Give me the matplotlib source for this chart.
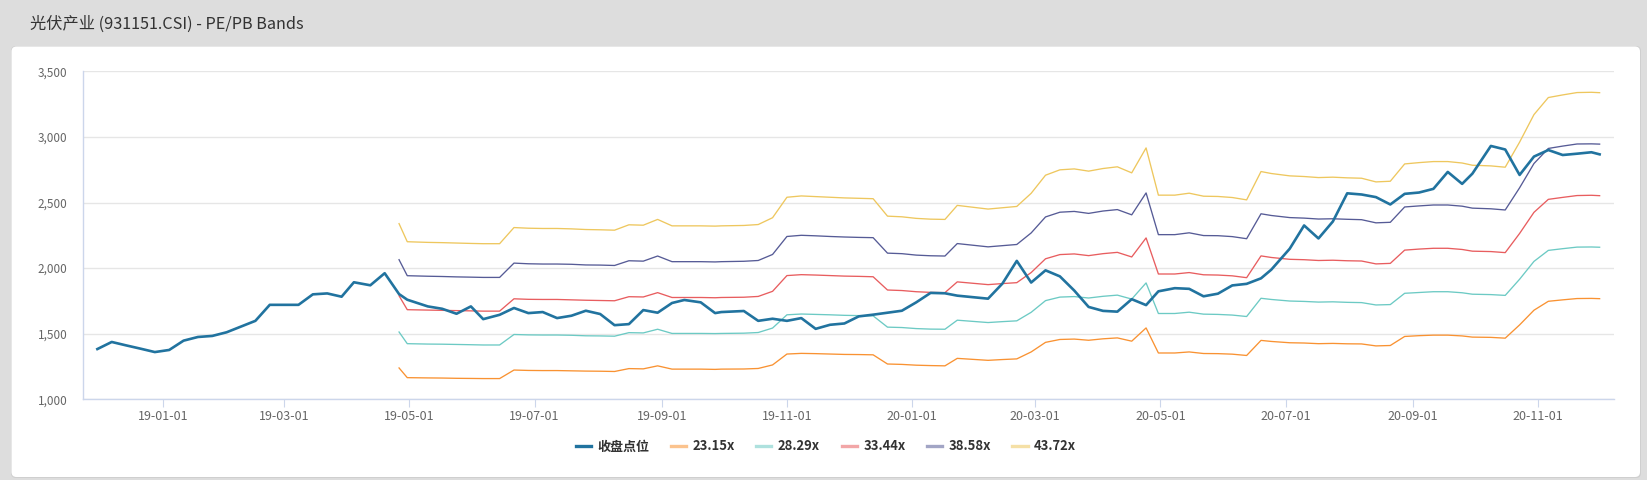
import matplotlib
matplotlib.use("Agg")
import matplotlib.pyplot as plt
import matplotlib.dates as mdates
from matplotlib.patches import FancyBboxPatch
from matplotlib.lines import Line2D
from matplotlib.ticker import FuncFormatter, MultipleLocator
from matplotlib.transforms import IdentityTransform
import pandas as pd

plt.rcParams['font.family'] = ['Noto Sans CJK SC', 'DejaVu Sans']

# weekly closes (last trading day of each week)
dates = [
    "2018-11-30", "2018-12-07", "2018-12-14", "2018-12-21", "2018-12-28",
    "2019-01-04", "2019-01-11", "2019-01-18", "2019-01-25", "2019-02-01",
    "2019-02-15", "2019-02-22", "2019-03-01", "2019-03-08", "2019-03-15",
    "2019-03-22", "2019-03-29", "2019-04-04", "2019-04-12", "2019-04-19",
    "2019-04-26", "2019-04-30", "2019-05-10", "2019-05-17", "2019-05-24",
    "2019-05-31", "2019-06-06", "2019-06-14", "2019-06-21", "2019-06-28",
    "2019-07-05", "2019-07-12", "2019-07-19", "2019-07-26", "2019-08-02",
    "2019-08-09", "2019-08-16", "2019-08-23", "2019-08-30", "2019-09-06",
    "2019-09-12", "2019-09-20", "2019-09-27", "2019-09-30", "2019-10-11",
    "2019-10-18", "2019-10-25", "2019-11-01", "2019-11-08", "2019-11-15",
    "2019-11-22", "2019-11-29", "2019-12-06", "2019-12-13", "2019-12-20",
    "2019-12-27", "2020-01-03", "2020-01-10", "2020-01-17", "2020-01-23",
    "2020-02-07", "2020-02-14", "2020-02-21", "2020-02-28", "2020-03-06",
    "2020-03-13", "2020-03-20", "2020-03-27", "2020-04-03", "2020-04-10",
    "2020-04-17", "2020-04-24", "2020-04-30", "2020-05-08", "2020-05-15",
    "2020-05-22", "2020-05-29", "2020-06-05", "2020-06-12", "2020-06-19",
    "2020-06-24", "2020-07-03", "2020-07-10", "2020-07-17", "2020-07-24",
    "2020-07-31", "2020-08-07", "2020-08-14", "2020-08-21", "2020-08-28",
    "2020-09-04", "2020-09-11", "2020-09-18", "2020-09-25", "2020-09-30",
    "2020-10-09", "2020-10-16", "2020-10-23", "2020-10-30", "2020-11-06",
    "2020-11-13", "2020-11-20", "2020-11-27", "2020-12-01",
]

close = [
    1383, 1437, 1411, 1386, 1360,
    1376, 1447, 1475, 1483, 1511,
    1598, 1720, 1720, 1720, 1800,
    1807, 1782, 1892, 1869, 1961,
    1802, 1759, 1708, 1690, 1652,
    1708, 1611, 1644, 1696, 1657,
    1665, 1619, 1637, 1675, 1650,
    1565, 1573, 1680, 1660, 1734,
    1757, 1739, 1657, 1665, 1673,
    1598, 1614, 1598, 1619, 1537,
    1568, 1578, 1632, 1645, 1660,
    1675, 1739, 1811, 1808, 1790,
    1767, 1882, 2055, 1890, 1983,
    1937, 1829, 1704, 1674, 1668,
    1763, 1718, 1823, 1847, 1842,
    1785, 1805, 1868, 1880, 1922,
    1988, 2148, 2325, 2226, 2355,
    2570, 2561, 2541, 2485, 2566,
    2576, 2604, 2733, 2642, 2720,
    2931, 2904, 2710, 2850, 2900,
    2862, 2872, 2883, 2867,
]

# PE bands start on 2019-04-26
band_start = "2019-04-26"

pe_2315 = [
    1239, 1165, 1163, 1162, 1160, 1159, 1158, 1158, 1223, 1220,
    1219, 1219, 1217, 1215, 1214, 1212, 1234, 1232, 1255, 1230,
    1230, 1230, 1228, 1230, 1231, 1235, 1262, 1345, 1350, 1348,
    1345, 1342, 1341, 1339, 1269, 1266, 1260, 1257, 1255, 1312,
    1297, 1303, 1308, 1361, 1434, 1456, 1459, 1450, 1461, 1468,
    1443, 1544, 1353, 1353, 1361, 1349, 1348, 1344, 1334, 1449,
    1441, 1431, 1429, 1424, 1426, 1423, 1422, 1407, 1410, 1479,
    1485, 1489, 1489, 1483, 1474, 1472, 1466, 1567, 1679, 1747,
    1758, 1768, 1769, 1767,
]
pe_2829 = [
    1513, 1424, 1421, 1420, 1418, 1416, 1414, 1414, 1494, 1491,
    1490, 1490, 1488, 1484, 1483, 1481, 1508, 1506, 1534, 1502,
    1502, 1502, 1501, 1502, 1504, 1509, 1543, 1644, 1650, 1647,
    1644, 1640, 1638, 1636, 1550, 1547, 1539, 1535, 1534, 1603,
    1585, 1592, 1598, 1663, 1752, 1779, 1783, 1772, 1785, 1794,
    1764, 1887, 1654, 1654, 1664, 1649, 1647, 1642, 1631, 1770,
    1761, 1749, 1746, 1741, 1743, 1739, 1737, 1719, 1722, 1808,
    1814, 1820, 1820, 1812, 1801, 1798, 1792, 1915, 2051, 2135,
    2148, 2160, 2161, 2159,
]
pe_3344 = [
    1789, 1683, 1680, 1678, 1676, 1674, 1672, 1672, 1766, 1762,
    1761, 1761, 1758, 1755, 1753, 1751, 1782, 1780, 1813, 1776,
    1776, 1776, 1774, 1776, 1778, 1784, 1823, 1943, 1950, 1947,
    1943, 1939, 1937, 1934, 1833, 1829, 1820, 1815, 1813, 1895,
    1874, 1882, 1889, 1966, 2071, 2103, 2108, 2095, 2110, 2120,
    2085, 2230, 1955, 1955, 1966, 1949, 1947, 1941, 1927, 2093,
    2081, 2067, 2064, 2058, 2060, 2056, 2054, 2032, 2036, 2137,
    2145, 2151, 2151, 2142, 2129, 2126, 2118, 2264, 2425, 2524,
    2539, 2553, 2555, 2552,
]
pe_3858 = [
    2064, 1942, 1938, 1936, 1933, 1931, 1929, 1929, 2038, 2033,
    2031, 2031, 2029, 2024, 2023, 2020, 2056, 2053, 2092, 2049,
    2049, 2049, 2047, 2049, 2052, 2058, 2104, 2241, 2250, 2246,
    2241, 2237, 2234, 2232, 2114, 2110, 2099, 2094, 2092, 2187,
    2162, 2171, 2180, 2268, 2390, 2426, 2432, 2417, 2435, 2446,
    2406, 2573, 2255, 2255, 2269, 2248, 2247, 2240, 2224, 2414,
    2401, 2385, 2381, 2374, 2376, 2372, 2369, 2345, 2349, 2466,
    2474, 2481, 2481, 2472, 2457, 2452, 2443, 2612, 2797, 2912,
    2930, 2946, 2947, 2945,
]
pe_4372 = [
    2339, 2201, 2196, 2194, 2191, 2188, 2186, 2186, 2309, 2304,
    2302, 2302, 2299, 2294, 2292, 2289, 2330, 2327, 2371, 2322,
    2322, 2322, 2320, 2322, 2325, 2332, 2384, 2540, 2550, 2545,
    2540, 2535, 2532, 2529, 2396, 2391, 2379, 2373, 2371, 2478,
    2450, 2460, 2470, 2570, 2708, 2749, 2756, 2739, 2759, 2772,
    2726, 2916, 2556, 2556, 2571, 2548, 2546, 2538, 2520, 2736,
    2721, 2703, 2698, 2690, 2693, 2688, 2685, 2657, 2662, 2794,
    2804, 2812, 2812, 2801, 2784, 2779, 2769, 2960, 3170, 3300,
    3320, 3338, 3340, 3337,
]

close_label = "收盘点位"
band_labels = ["23.15x", "28.29x", "33.44x", "38.58x", "43.72x"]
close_color = "#21739f"
band_colors = ["#f99232", "#6ccac4", "#e85d5f", "#565b96", "#eec75e"]

W, H = 1647, 480
fig = plt.figure(figsize=(W / 100, H / 100), dpi=100)
fig.patch.set_facecolor("#dddddd")

# white card with a soft edge
shadow = FancyBboxPatch((11, 2), 1630, 432, boxstyle="round,pad=0,rounding_size=5",
                        transform=IdentityTransform(), facecolor="#cfcfcf", edgecolor="none", zorder=0)
card = FancyBboxPatch((11.5, 3), 1628.5, 430.5, boxstyle="round,pad=0,rounding_size=5",
                      transform=IdentityTransform(), facecolor="white", edgecolor="none", zorder=0)
fig.patches.extend([shadow, card])

fig.text(30 / W, 1 - 24 / H, "光伏产业 (931151.CSI) - PE/PB Bands",
         fontsize=11.7, color="#333333", va="center", ha="left")

ax = fig.add_axes([83 / W, 1 - 399.3 / H, (1614 - 83) / W, (399.3 - 71.3) / H])
ax.set_zorder(2)
ax.set_facecolor("none")

x_all = pd.to_datetime(dates)
i0 = dates.index(band_start)
x_band = x_all[i0:]

for vals, col, lab in zip([pe_2315, pe_2829, pe_3344, pe_3858, pe_4372], band_colors, band_labels):
    ax.plot(x_band, vals, color=col, lw=0.95, label=lab, zorder=2)
ax.plot(x_all, close, color=close_color, lw=1.9, label=close_label, zorder=3)

ax.set_ylim(1000, 3500)
ax.yaxis.set_major_locator(MultipleLocator(500))
ax.yaxis.set_major_formatter(FuncFormatter(lambda v, p: f"{v:,.0f}"))
ax.set_xlim(pd.Timestamp("2018-11-23"), pd.Timestamp("2020-12-08"))
ax.xaxis.set_major_locator(mdates.MonthLocator(bymonth=[1, 3, 5, 7, 9, 11]))
ax.xaxis.set_major_formatter(mdates.DateFormatter("%y-%m-%d"))

ax.grid(axis="y", color="#e6e6e6", lw=1)
ax.set_axisbelow(True)
for s in ["top", "right"]:
    ax.spines[s].set_visible(False)
for s in ["left", "bottom"]:
    ax.spines[s].set_color("#ccd6eb")
    ax.spines[s].set_linewidth(1)

ax.tick_params(axis="y", length=0, pad=11, labelsize=8.5, labelcolor="#666666")
ax.tick_params(axis="x", length=6, width=0.8, color="#ccd6eb", pad=1.5,
               labelsize=9, labelcolor="#666666")

handles = [Line2D([], [], color=close_color, lw=2.4)]
handles += [Line2D([], [], color=c, lw=2.4, alpha=0.55) for c in band_colors]
leg = fig.legend(handles, [close_label] + band_labels, loc="center",
                 bbox_to_anchor=(826 / W, 1 - 446.5 / H), ncol=6, frameon=False,
                 prop={"weight": "bold", "size": 9.4}, handlelength=1.15,
                 handletextpad=0.5, columnspacing=1.65)
for t in leg.get_texts():
    t.set_color("#333333")

fig.savefig("out.png", dpi=100, facecolor=fig.get_facecolor())
